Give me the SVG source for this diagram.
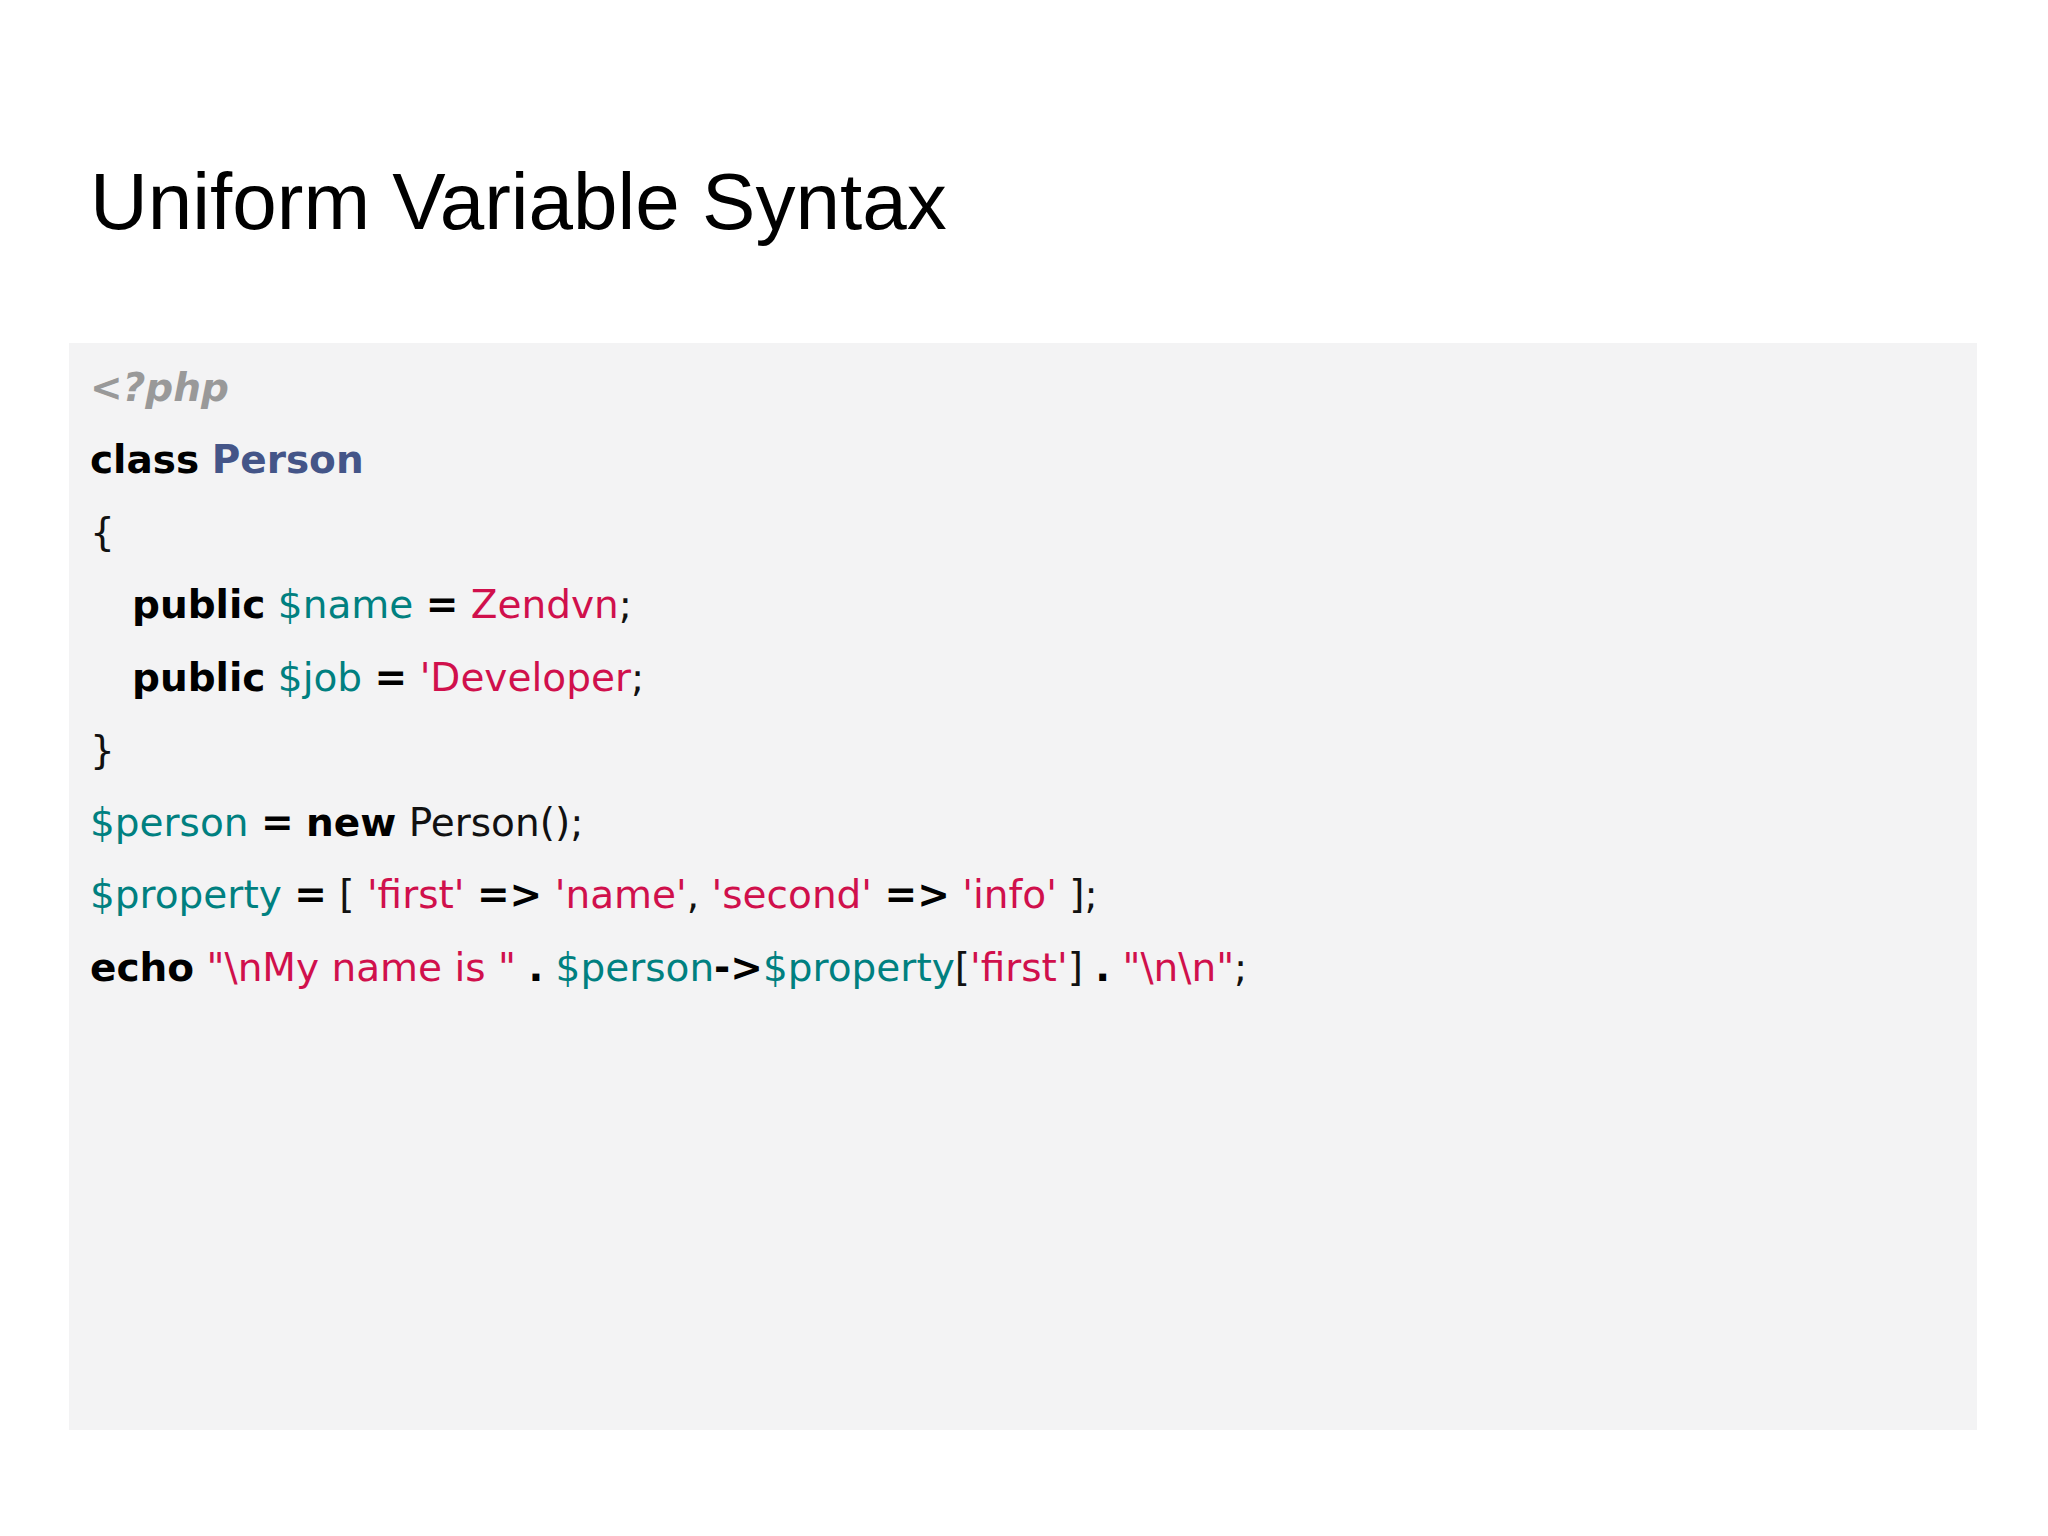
<svg xmlns="http://www.w3.org/2000/svg" width="2048" height="1536" viewBox="0 0 2048 1536">
<style>
.c{font-family:"DejaVu Sans",Verdana,sans-serif;font-size:39px;fill:#111}
.k{font-weight:bold;fill:#000}
.v{fill:#008080}
.s{fill:#d0104c}
.t{font-weight:bold;fill:#445588}
.p{font-weight:bold;font-style:italic;fill:#999}
</style>
<rect width="2048" height="1536" fill="#fff"/>
<text x="90" y="229" font-family="Liberation Sans,Arial,sans-serif" font-size="80" fill="#000">Uniform Variable Syntax</text>
<rect x="69" y="343" width="1908" height="1087" fill="#f3f3f4"/>
<g class="c">
<text x="90" y="401" class="p">&lt;?php</text>
<text x="90" y="473"><tspan class="k">class</tspan> <tspan class="t">Person</tspan></text>
<text x="90" y="546">{</text>
<text x="132" y="618"><tspan class="k">public</tspan> <tspan class="v">$name</tspan> <tspan class="k">=</tspan> <tspan class="s">Zendvn</tspan>;</text>
<text x="132" y="691"><tspan class="k">public</tspan> <tspan class="v">$job</tspan> <tspan class="k">=</tspan> <tspan class="s">'Developer</tspan>;</text>
<text x="90" y="764">}</text>
<text x="90" y="836"><tspan class="v">$person</tspan> <tspan class="k">=</tspan> <tspan class="k">new</tspan> Person();</text>
<text x="90" y="908"><tspan class="v">$property</tspan> <tspan class="k">=</tspan> [ <tspan class="s">'first'</tspan> <tspan class="k">=&gt;</tspan> <tspan class="s">'name'</tspan>, <tspan class="s">'second'</tspan> <tspan class="k">=&gt;</tspan> <tspan class="s">'info'</tspan> ];</text>
<text x="90" y="981"><tspan class="k">echo</tspan> <tspan class="s">"\nMy name is "</tspan> <tspan class="k">.</tspan> <tspan class="v">$person</tspan><tspan class="k">-&gt;</tspan><tspan class="v">$property</tspan>[<tspan class="s">'first'</tspan>] <tspan class="k">.</tspan> <tspan class="s">"\n\n"</tspan>;</text>
</g>
</svg>
